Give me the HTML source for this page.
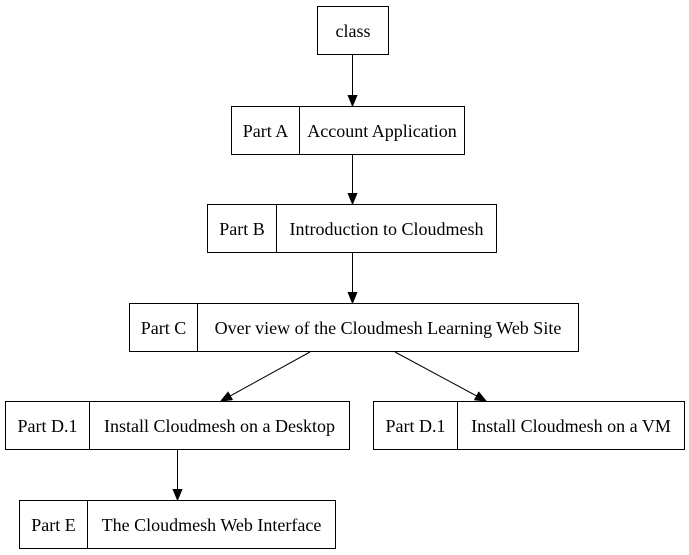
<!DOCTYPE html>
<html><head><style>html,body{margin:0;padding:0;background:#fff}svg{display:block}</style></head>
<body>
<svg width="689" height="555" viewBox="0 0 689 555" xmlns="http://www.w3.org/2000/svg" font-family="Liberation Serif, serif" font-size="18" fill="none" stroke="#000" stroke-width="1">
<defs><marker id="a" markerWidth="12" markerHeight="10" refX="11" refY="5" orient="auto" markerUnits="userSpaceOnUse"><path d="M0,0.5 L11,5 L0,9.5 z" fill="#000"/></marker></defs>
<rect x="317.5" y="6.5" width="71" height="48"/>
<rect x="231.5" y="106.5" width="233" height="48"/><line x1="299.5" y1="106.5" x2="299.5" y2="154.5"/>
<rect x="207.5" y="204.5" width="289" height="48"/><line x1="276.5" y1="204.5" x2="276.5" y2="252.5"/>
<rect x="129.5" y="303.5" width="449" height="48"/><line x1="197.5" y1="303.5" x2="197.5" y2="351.5"/>
<rect x="5.5" y="401.5" width="344" height="48"/><line x1="89.5" y1="401.5" x2="89.5" y2="449.5"/>
<rect x="373.5" y="401.5" width="311" height="48"/><line x1="457.5" y1="401.5" x2="457.5" y2="449.5"/>
<rect x="19.5" y="500.5" width="316" height="48"/><line x1="87.5" y1="500.5" x2="87.5" y2="548.5"/>
<g marker-end="url(#a)">
<line x1="352.5" y1="55" x2="352.5" y2="106"/>
<line x1="352.5" y1="155" x2="352.5" y2="204"/>
<line x1="352.5" y1="253" x2="352.5" y2="303"/>
<line x1="310" y1="352" x2="221" y2="401"/>
<line x1="395" y1="352" x2="486" y2="401"/>
<line x1="177.5" y1="450" x2="177.5" y2="500"/>
</g>
<g fill="#000" stroke="none" text-anchor="middle">
<text x="353" y="37">class</text>
<text x="265.5" y="137">Part A</text><text x="382" y="137">Account Application</text>
<text x="242" y="235">Part B</text><text x="386.5" y="235">Introduction to Cloudmesh</text>
<text x="163.5" y="334">Part C</text><text x="388" y="334">Over view of the Cloudmesh Learning Web Site</text>
<text x="47.5" y="432">Part D.1</text><text x="219.5" y="432">Install Cloudmesh on a Desktop</text>
<text x="415.5" y="432">Part D.1</text><text x="571" y="432">Install Cloudmesh on a VM</text>
<text x="53.5" y="531">Part E</text><text x="211.5" y="531">The Cloudmesh Web Interface</text>
</g>
</svg>
</body></html>
